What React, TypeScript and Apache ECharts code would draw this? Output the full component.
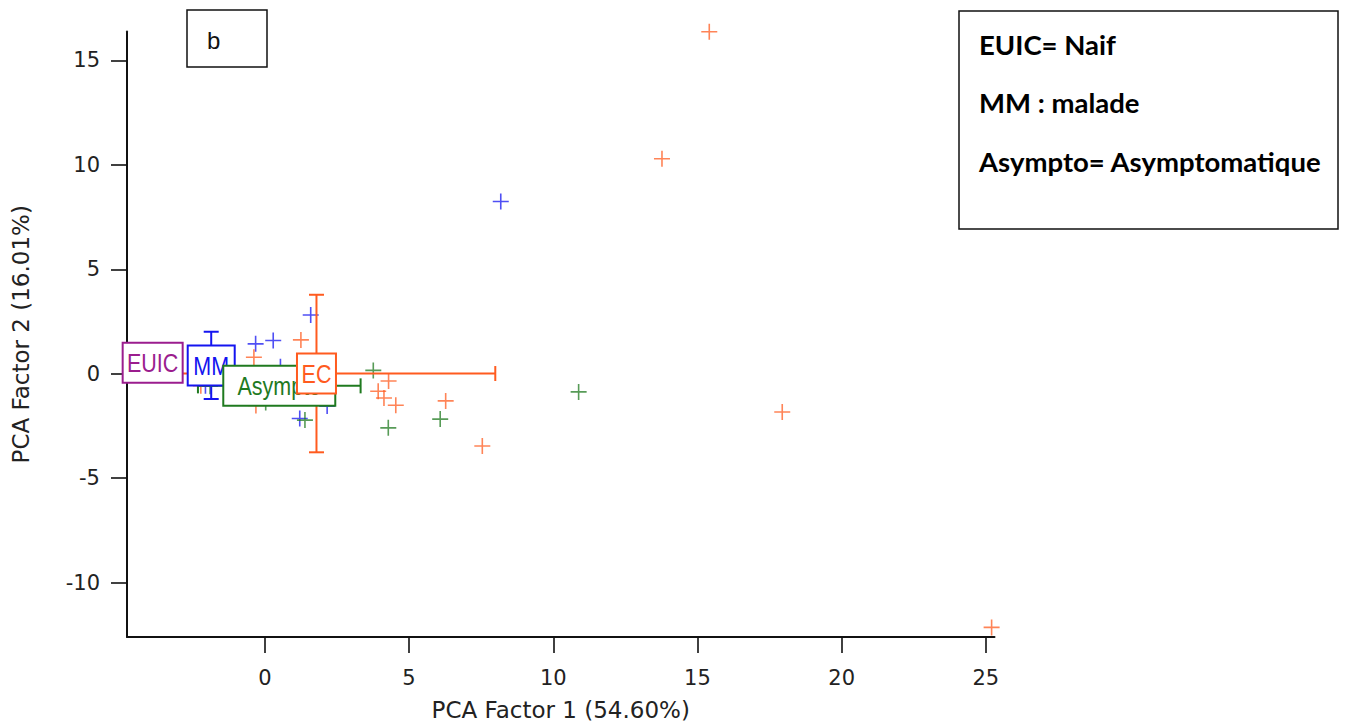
import React, { useEffect, useRef } from "react";
import * as echarts from "echarts";

// ---- data ----
const groupNames = ["EUIC", "MM", "Asympto", "EC"];
const groupColors = ["#9B1D8E", "#1414F0", "#1F7A1F", "#FF5B1F"];

const mmPoints = [
  [1.59, 2.81], [-0.32, 1.43], [0.29, 1.59], [0.54, 0.33], [1.21, -2.14],
  [2.16, -1.55], [8.18, 8.24], [-2.06, -0.57],
];
const asymptoPoints = [
  [3.76, 0.16], [10.88, -0.87], [4.28, -2.59], [6.08, -2.17], [1.39, -2.22],
  [0.03, -1.38], [-0.81, -0.19], [0.96, -0.2], [-1.9, -0.6],
];
const ecPoints = [
  [1.25, 1.62], [-0.38, 0.79], [-0.31, -1.52], [4.29, -0.35], [3.93, -0.84],
  [4.13, -1.16], [4.54, -1.51], [6.27, -1.3], [7.54, -3.46], [13.77, 10.29],
  [15.41, 16.37], [17.94, -1.83], [25.2, -12.14], [-2.22, -0.57],
];

const centroidX = [-3.89, -1.86, 0.5, 1.79];
const centroidY = [0.52, 0.4, -0.58, 0.01];
const errX = [0, 0.7, 2.82, 6.2];
const errY = [0, 1.61, 0.6, 3.77];

const xTicks = [0, 5, 10, 15, 20, 25];
const yTicks = [-10, -5, 0, 5, 10, 15];
const xName = "PCA Factor 1 (54.60%)";
const yName = "PCA Factor 2 (16.01%)";
const panelLetter = "b";
const legendLines = ["EUIC= Naif", "MM : malade", "Asympto= Asymptomatique"];

// ---- styles ----
const boxW = [60, 47, 112, 39];
const boxH = 40;
const capHalf = 7.5;
const axisFont = "DejaVu Sans";

export default function App() {
  const ref = useRef<HTMLDivElement>(null);
  useEffect(() => {
    if (!ref.current) return;
    const chart = echarts.init(ref.current, null, { renderer: "svg" });

    const plusSymbol = "path://M0,-8 L0,8 M-8,0 L8,0";
    const scatter = (name: string, data: number[][], color: string) => ({
      type: "scatter",
      name,
      data,
      symbol: plusSymbol,
      symbolSize: 16,
      z: 2,
      itemStyle: { color: "none", borderColor: color, borderWidth: 1.6, opacity: 0.75 },
    });

    const centroidData = groupNames.map((g, i) => [centroidX[i], centroidY[i], errX[i], errY[i], i]);

    const option: any = {
      animation: false,
      backgroundColor: "#fff",
      grid: { left: 127, right: 360.5, top: 31.5, bottom: 86.5 },
      xAxis: {
        type: "value",
        min: -4.78,
        max: 25.3,
        name: xName,
        nameLocation: "middle",
        nameGap: 61,
        nameTextStyle: { fontFamily: axisFont, fontSize: 23, color: "#222" },
        splitLine: { show: false },
        axisLine: { onZero: false, lineStyle: { color: "#111", width: 2 } },
        axisTick: { customValues: xTicks, length: 16, lineStyle: { color: "#111", width: 1.6 } },
        axisLabel: { customValues: xTicks, margin: 30, fontFamily: axisFont, fontSize: 21, color: "#222" },
      },
      yAxis: {
        type: "value",
        min: -12.6,
        max: 16.38,
        name: yName,
        nameLocation: "middle",
        nameGap: 95,
        nameTextStyle: { fontFamily: axisFont, fontSize: 23, color: "#222" },
        splitLine: { show: false },
        axisLine: { onZero: false, lineStyle: { color: "#111", width: 2 } },
        axisTick: { customValues: yTicks, length: 16, lineStyle: { color: "#111", width: 1.6 } },
        axisLabel: { customValues: yTicks, margin: 27, fontFamily: axisFont, fontSize: 21, color: "#222" },
      },
      series: [
        scatter("MM", mmPoints, groupColors[1]),
        scatter("Asympto", asymptoPoints, groupColors[2]),
        scatter("EC", ecPoints, groupColors[3]),
        {
          type: "custom",
          name: "errorbars",
          z: 3,
          data: centroidData,
          renderItem: (params: any, api: any) => {
            const x = api.value(0), y = api.value(1), ex = api.value(2), ey = api.value(3);
            const i = params.dataIndex;
            const color = groupColors[i];
            const style = { stroke: color, lineWidth: 2 };
            const children: any[] = [];
            if (ex > 0) {
              const l = api.coord([x - ex, y]);
              const r = api.coord([x + ex, y]);
              children.push({ type: "line", shape: { x1: l[0], y1: l[1], x2: r[0], y2: r[1] }, style });
              children.push({ type: "line", shape: { x1: l[0], y1: l[1] - capHalf, x2: l[0], y2: l[1] + capHalf }, style });
              children.push({ type: "line", shape: { x1: r[0], y1: r[1] - capHalf, x2: r[0], y2: r[1] + capHalf }, style });
            }
            if (ey > 0) {
              const t = api.coord([x, y + ey]);
              const b = api.coord([x, y - ey]);
              children.push({ type: "line", shape: { x1: t[0], y1: t[1], x2: b[0], y2: b[1] }, style });
              children.push({ type: "line", shape: { x1: t[0] - capHalf, y1: t[1], x2: t[0] + capHalf, y2: t[1] }, style });
              children.push({ type: "line", shape: { x1: b[0] - capHalf, y1: b[1], x2: b[0] + capHalf, y2: b[1] }, style });
            }
            return { type: "group", children };
          },
        },
        {
          type: "custom",
          name: "labels",
          z: 4,
          data: centroidData,
          renderItem: (params: any, api: any) => {
            const i = params.dataIndex;
            const c = api.coord([api.value(0), api.value(1)]);
            const color = groupColors[i];
            const w = boxW[i];
            return {
              type: "group",
              children: [
                {
                  type: "rect",
                  z2: i * 2,
                  shape: { x: c[0] - w / 2, y: c[1] - boxH / 2, width: w, height: boxH },
                  style: { fill: "#fff", stroke: color, lineWidth: 2 },
                },
                {
                  type: "text",
                  z2: i * 2 + 1,
                  x: c[0],
                  y: c[1] + 1,
                  scaleX: 0.86,
                  style: {
                    text: groupNames[i],
                    fill: color,
                    fontSize: 25,
                    fontFamily: "Liberation Sans",
                    align: "center",
                    verticalAlign: "middle",
                  },
                },
              ],
            };
          },
        },
      ],
      graphic: [
        {
          type: "rect",
          shape: { x: 187, y: 10, width: 80, height: 57 },
          style: { fill: "#fff", stroke: "#111", lineWidth: 1.5 },
        },
        {
          type: "text",
          x: 207,
          y: 40,
          style: { text: panelLetter, fill: "#111", fontSize: 24, fontFamily: "Liberation Sans", verticalAlign: "middle" },
        },
        {
          type: "rect",
          shape: { x: 959, y: 11, width: 379, height: 218 },
          style: { fill: "#fff", stroke: "#111", lineWidth: 1.5 },
        },
        ...legendLines.map((t, k) => ({
          type: "text",
          x: 979,
          y: [44, 102, 161][k],
          style: { text: t, fill: "#000", fontSize: 27.5, fontWeight: "bold", fontFamily: "Lato", verticalAlign: "middle" },
        })),
      ],
    };
    chart.setOption(option);
    return () => chart.dispose();
  }, []);
  return (
    <div
      ref={ref}
      style={{ position: "fixed", left: 0, top: 0, width: 1355, height: 726, background: "#fff" }}
    />
  );
}
